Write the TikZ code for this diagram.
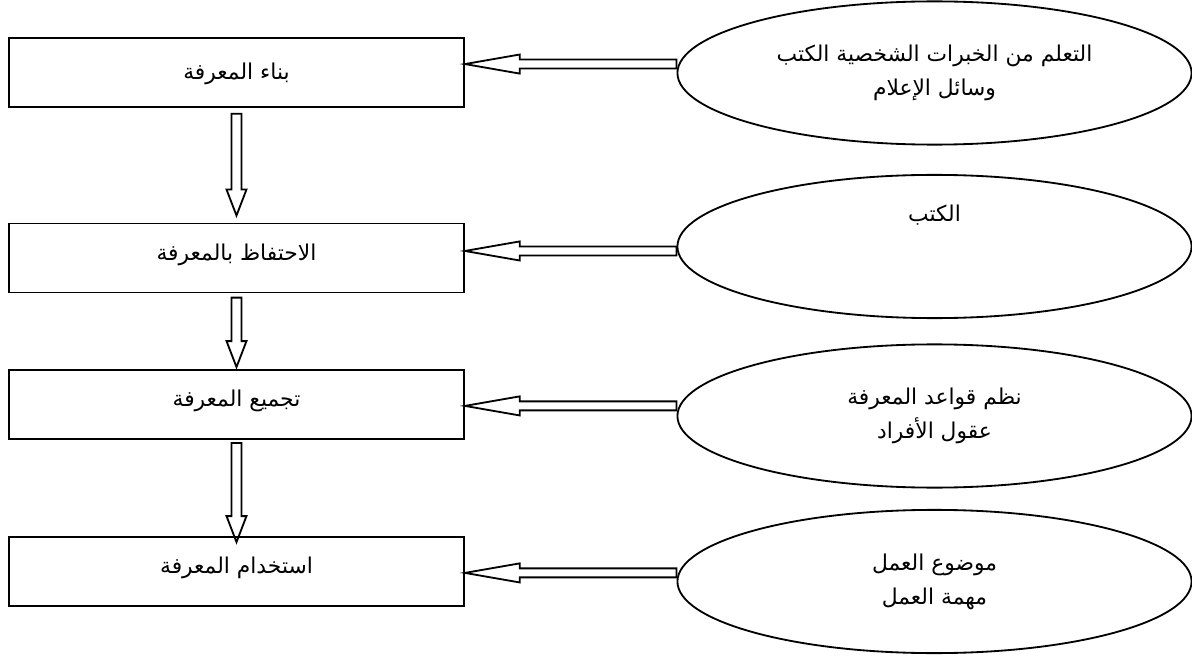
\documentclass[tikz,border=0pt]{standalone}
\usepackage{fontspec}
\usetikzlibrary{calc,shapes.geometric}
\newfontfamily\arabicfont[Script=Arabic]{DejaVu Sans}
\TeXXeTstate=1
\newcommand\artext[1]{\beginR #1\endR}

\begin{document}
\begin{tikzpicture}[x=0.025cm, y=-0.025cm,
			line width=1.3pt,
			every node/.style = {align=center,
				font=\arabicfont\fontsize{15.5}{18}\selectfont},
			stage/.style={shape=rectangle, draw,
				minimum width=11.375cm, minimum height=1.725cm,
				text height=10pt, text depth=6.6pt},
			source/.style={shape=ellipse, draw, inner sep=0pt,
				minimum width=12.85cm, minimum height=3.58cm},
			block/.style n args={3}{to path={
				($(\tikztostart)!#1!90:(\tikztotarget)$) --
				($(\tikztotarget)!#3!(\tikztostart)!#1!90:(\tikztotarget)$) --
				($(\tikztotarget)!#3!(\tikztostart)!#2!90:(\tikztotarget)$) --
				(\tikztotarget) --
				($(\tikztotarget)!#3!(\tikztostart)!#2!-90:(\tikztotarget)$) --
				($(\tikztotarget)!#3!(\tikztostart)!#1!-90:(\tikztotarget)$) --
				($(\tikztostart)!#1!-90:(\tikztotarget)$) -- cycle}},
			vblock/.style={block={3.6pt}{7.1pt}{18.5pt}},
			hblock/.style={block={3.2pt}{6.8pt}{39pt}}]
			\useasboundingbox (0,0) rectangle (1192,656);

			\node[stage, text height=17pt] (b1) at (236.5,72.5) {\artext{بناء المعرفة}};
			\node[stage] (b2) at (236.5,258) {\artext{الاحتفاظ بالمعرفة}};
			\node[stage] (b3) at (236.5,404.5) {\artext{تجميع المعرفة}};
			\node[stage] (b4) at (236.5,571.5) {\artext{استخدام المعرفة}};

			\node[source] (e1) at (934.5,73)
				{\artext{التعلم من الخبرات الشخصية الكتب}\\[6pt]\artext{وسائل الإعلام}};
			\node[source] (e2) at (934.5,246.5) {\artext{الكتب}\\[30pt]\mbox{}};
			\node[source] (e3) at (934.5,416)
				{\artext{نظم قواعد المعرفة}\\[5pt]\artext{عقول الأفراد}};
			\node[source] (e4) at (934.5,581.5)
				{\artext{موضوع العمل}\\[6pt]\artext{مهمة العمل}};

			\coordinate (t1) at ([yshift=6pt]b1.east);
			\coordinate (t2) at ([yshift=5pt]b2.east);
			\coordinate (t3) at ([yshift=-1pt]b3.east);
			\coordinate (t4) at ([yshift=-1pt]b4.east);
			\foreach \i in {1,...,4}
				\draw[hblock] (t\i -| e\i.west) to (t\i);

			\draw[vblock] ([yshift=-4.2pt]b1.south) to ([yshift=5pt]b2.north);
			\draw[vblock] ([yshift=-3pt]b2.south) to ([yshift=1.4pt]b3.north);
			\draw[vblock] ([yshift=-2.2pt]b3.south) to ([yshift=-4.3pt]b4.north);
		\end{tikzpicture}
\end{document}
